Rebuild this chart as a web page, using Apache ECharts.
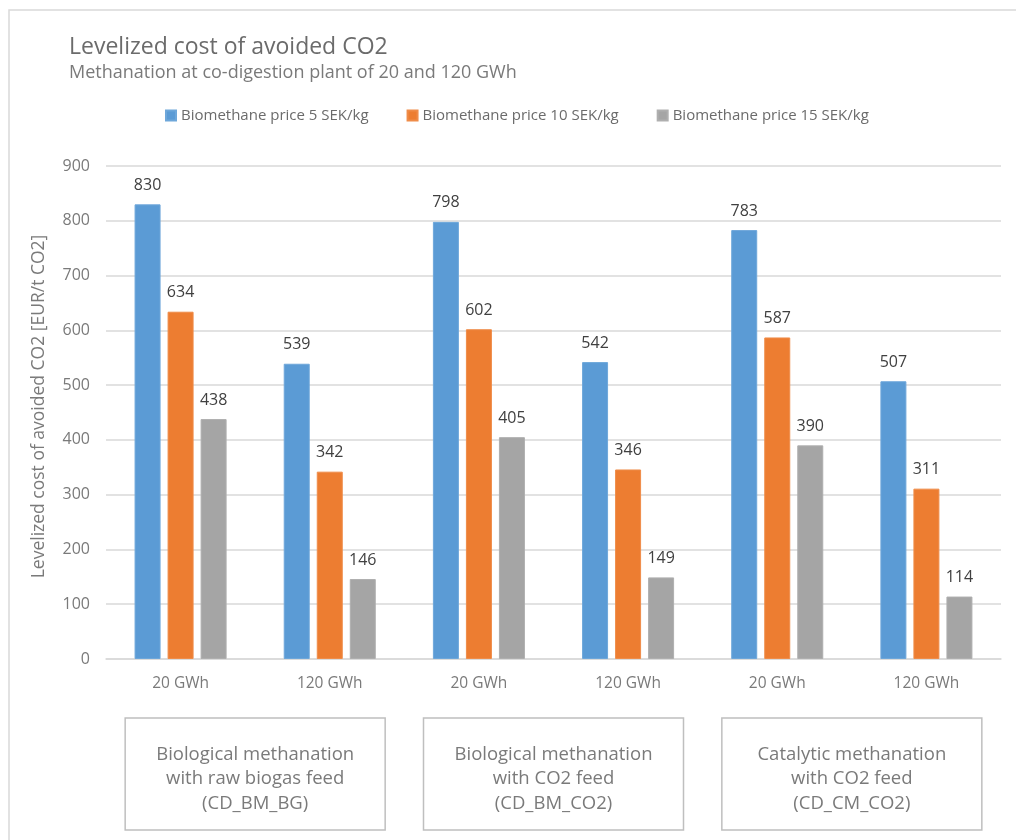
<!DOCTYPE html>
<html>
<head>
<meta charset="utf-8">
<script src="https://cdn.jsdelivr.net/npm/echarts@6/dist/echarts.min.js"></script>
<style>
  html, body { margin: 0; padding: 0; background: #fff; }
  #chart { width: 1016px; height: 840px; }
</style>
</head>
<body>
<div id="chart"></div>
<script>
// Plant sizes along the x axis (two per methanation concept)
const categories = ['20 GWh', '120 GWh', '20 GWh', '120 GWh', '20 GWh', '120 GWh'];

// Methanation concepts, each spanning a pair of plant sizes
const groupLabels = [
  'Biological methanation\nwith raw biogas feed\n(CD_BM_BG)',
  'Biological methanation\nwith CO2 feed\n(CD_BM_CO2)',
  'Catalytic methanation\nwith CO2 feed\n(CD_CM_CO2)'
];

const seriesNames = [
  'Biomethane price 5 SEK/kg',
  'Biomethane price 10 SEK/kg',
  'Biomethane price 15 SEK/kg'
];

// Levelized cost of avoided CO2 [EUR/t CO2]
const price5 = [830, 539, 798, 542, 783, 507];
const price10 = [634, 342, 602, 346, 587, 311];
const price15 = [438, 146, 405, 149, 390, 114];

const yTicks = { min: 0, max: 900, interval: 100 };

const colors = ['#5B9BD5', '#ED7D31', '#A5A5A5'];
const FONT = 'Open Sans';

const chart = echarts.init(document.getElementById('chart'), null, { renderer: 'canvas' });

function barSeries(name, data, color) {
  return {
    name: name,
    type: 'bar',
    data: data,
    barWidth: 26,
    barGap: '27%',
    itemStyle: { color: color, borderColor: echarts.color.lift(color, 0.12), borderWidth: 1 },
    label: {
      show: true,
      position: 'top',
      distance: 11,
      color: '#404040',
      fontFamily: FONT,
      fontSize: 16
    }
  };
}

const option = {
  backgroundColor: '#ffffff',
  animation: false,
  color: colors,
  title: {
    text: 'Levelized cost of avoided CO2',
    subtext: 'Methanation at co-digestion plant of 20 and 120 GWh',
    left: 64,
    top: 31,
    itemGap: 5,
    textStyle: { fontFamily: FONT, fontSize: 23, fontWeight: 'normal', color: '#6b6b6b' },
    subtextStyle: { fontFamily: FONT, fontSize: 18, color: '#7a7a7a' }
  },
  legend: {
    top: 103,
    left: 160,
    itemWidth: 10,
    itemHeight: 10,
    itemGap: 38,
    icon: 'rect',
    textStyle: { fontFamily: FONT, fontSize: 15, color: '#6b6b6b' },
    data: seriesNames
  },
  grid: { left: 106, right: 15, top: 166, bottom: 181, containLabel: false },
  xAxis: {
    type: 'category',
    data: categories,
    axisLine: { lineStyle: { color: '#D9D9D9', width: 1.5 } },
    axisTick: { show: false },
    axisLabel: { color: '#7a7a7a', fontFamily: FONT, fontSize: 15.5, margin: 17 }
  },
  yAxis: {
    type: 'value',
    min: yTicks.min,
    max: yTicks.max,
    interval: yTicks.interval,
    name: 'Levelized cost of avoided CO2 [EUR/t CO2]',
    nameLocation: 'middle',
    nameGap: 58,
    nameTextStyle: { color: '#7a7a7a', fontFamily: FONT, fontSize: 17.5, padding: [0, 0, 0, 12] },
    axisLine: { show: false },
    axisTick: { show: false },
    splitLine: { lineStyle: { color: '#D9D9D9', width: 1.5 } },
    axisLabel: { color: '#7a7a7a', fontFamily: FONT, fontSize: 16, margin: 16 }
  },
  series: [
    barSeries(seriesNames[0], price5, colors[0]),
    barSeries(seriesNames[1], price10, colors[1]),
    barSeries(seriesNames[2], price15, colors[2])
  ]
};

chart.setOption(option);

// Outer chart frame plus one labelled box under each pair of categories
function drawGroups() {
  const elements = [{
    type: 'rect',
    shape: { x: 9, y: 10, width: 1100, height: 900 },
    style: { fill: null, stroke: '#D9D9D9', lineWidth: 1.5 },
    silent: true,
    z: -1
  }];
  const boxWidth = 260;
  groupLabels.forEach(function (text, i) {
    const a = chart.convertToPixel({ xAxisIndex: 0 }, i * 2);
    const b = chart.convertToPixel({ xAxisIndex: 0 }, i * 2 + 1);
    const cx = (a + b) / 2;
    elements.push({
      type: 'rect',
      shape: { x: cx - boxWidth / 2, y: 718, width: boxWidth, height: 112 },
      style: { fill: '#fff', stroke: '#BFBFBF', lineWidth: 1.5 },
      silent: true
    });
    elements.push({
      type: 'text',
      x: cx,
      y: 779,
      style: {
        text: text,
        align: 'center',
        verticalAlign: 'middle',
        fontFamily: FONT,
        fontSize: 18.5,
        lineHeight: 24.5,
        fill: '#7a7a7a'
      },
      silent: true
    });
  });
  chart.setOption({ graphic: { elements: elements } });
}
drawGroups();
</script>
</body>
</html>
